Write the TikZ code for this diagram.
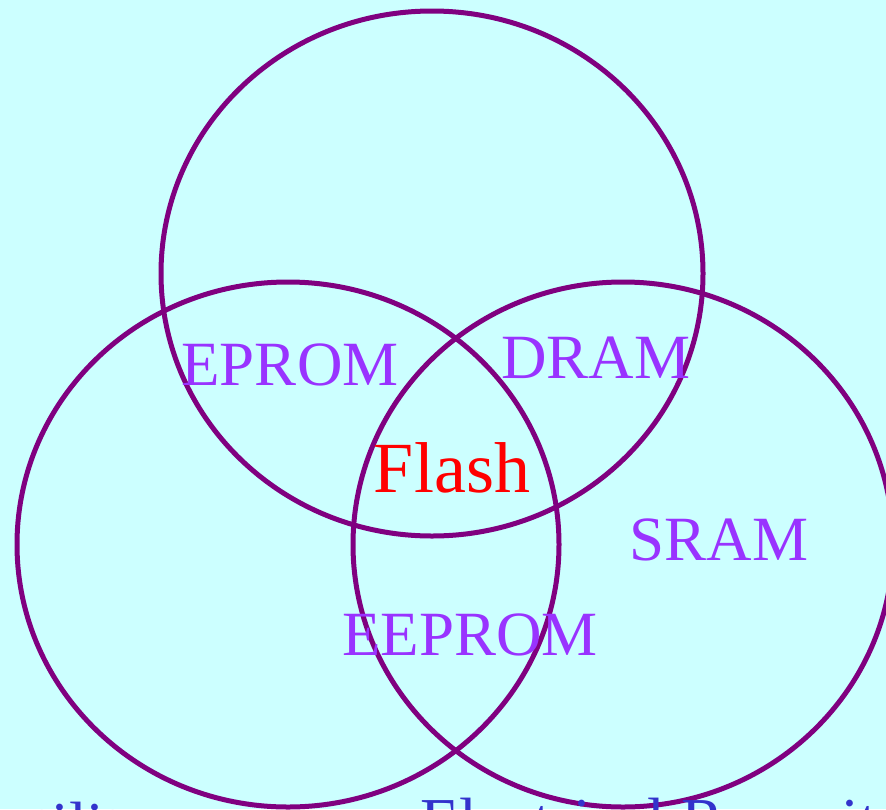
\documentclass[tikz,border=0pt]{standalone}
\usepackage{fontspec}
\setmainfont{Liberation Serif}
\definecolor{bgcyan}{HTML}{CCFFFF}
\definecolor{ringpurple}{HTML}{800080}
\definecolor{labelviolet}{HTML}{9933FF}
\definecolor{propblue}{HTML}{3333CC}
\begin{document}
\begin{tikzpicture}[x=1pt,y=-1pt,
  ring/.style={draw=ringpurple,line width=5pt},
  memlabel/.style={text=labelviolet,anchor=base,inner sep=0pt,font=\fontsize{63}{70}\selectfont},
  corelabel/.style={text=red,anchor=base,inner sep=0pt,font=\fontsize{72}{80}\selectfont},
  proplabel/.style={text=propblue,anchor=base west,inner sep=0pt,font=\fontsize{64}{72}\selectfont}]
  % page and background
  \useasboundingbox (0,0) rectangle (886,809);
  \fill[bgcyan] (0,0) rectangle (886,809);
  \begin{scope}
    \clip (0,0) rectangle (886,809);
    % the three property sets
    \draw[ring] (432,273.5) ellipse [x radius=271, y radius=262.5];
    \draw[ring] (288,544.5) ellipse [x radius=271, y radius=262.5];
    \draw[ring] (623,544.5) ellipse [x radius=270, y radius=262.5];
    % memory types
    \node[memlabel] (eprom) at (290,385) {EPROM};
    \node[memlabel] (dram) at (596,378) {DRAM};
    \node[corelabel] (flash) at (452,492) {Flash};
    \node[memlabel] (sram) at (719,560) {SRAM};
    \node[memlabel] (eeprom) at (470,655) {EEPROM};
    % property names
    \node[proplabel] (nonvol) at (-187,846) {Nonvolatility};
    \node[proplabel] (rewrite) at (420,842) {Electrical Re-writability};
  \end{scope}
\end{tikzpicture}
\end{document}
